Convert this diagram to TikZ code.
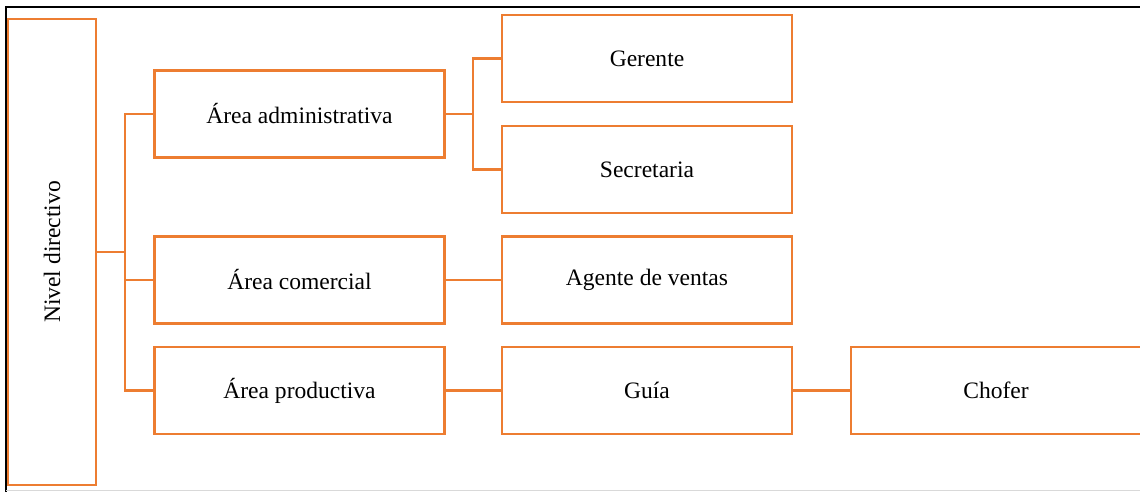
\documentclass[tikz,border=0pt]{standalone}
\usepackage{fontspec}
\setmainfont{Liberation Serif}
\usepackage{xcolor}
\usetikzlibrary{positioning}
\definecolor{naranja}{RGB}{237,125,49}

\begin{document}
\begin{tikzpicture}[x=0.02cm, y=-0.02cm,
    caja/.style={rectangle, draw=naranja, line width=1.5pt, minimum width=5.8cm, minimum height=1.74cm, inner sep=0pt, font=\fontsize{13.4}{16}\selectfont},
    enlace/.style={draw=naranja, line width=1.5pt}]
    \useasboundingbox (0,0) rectangle (1140,492);
    % marco
    \draw[black, line width=1.5pt] (6,492) -- (6,7) -- (1140,7);
    \draw[black!15, line width=0.6pt] (6,490.5) -- (1140,490.5);

    \node(nivel) [caja, minimum width=1.76cm, minimum height=9.32cm] at (52,252) {};
    \node[rotate=90, font=\fontsize{13.4}{16}\selectfont] at (nivel.center) {Nivel directivo};

    \node(adm)  [caja] at (299.5,114) {Área administrativa};
    \node(com)  [caja] at (299.5,280) {Área comercial};
    \node(prod) [caja] at (299.5,390.5) {Área productiva};

    \node(ger)  [caja] at (647,58.5) {Gerente};
    \node(sec)  [caja] at (647,169.5) {Secretaria};
    \node(age)  [caja] at (647,280) {Agente de ventas};
    \node(guia) [caja] at (647,390.5) {Guía};
    \node(chof) [caja] at (996,390.5) {Chofer};

    \coordinate (t1) at (125,252);
    \coordinate (t2) at (473,114);

    \draw[enlace] (nivel.east) -- (t1)
        (t1) |- (adm.west)
        (t1) |- (com.west)
        (t1) |- (prod.west);
    \draw[enlace] (adm.east) -- (t2)
        (t2) |- (ger.west)
        (t2) |- (sec.west);
    \draw[enlace] (com) -- (age);
    \draw[enlace] (prod) -- (guia);
    \draw[enlace] (guia) -- (chof);
\end{tikzpicture}
\end{document}
